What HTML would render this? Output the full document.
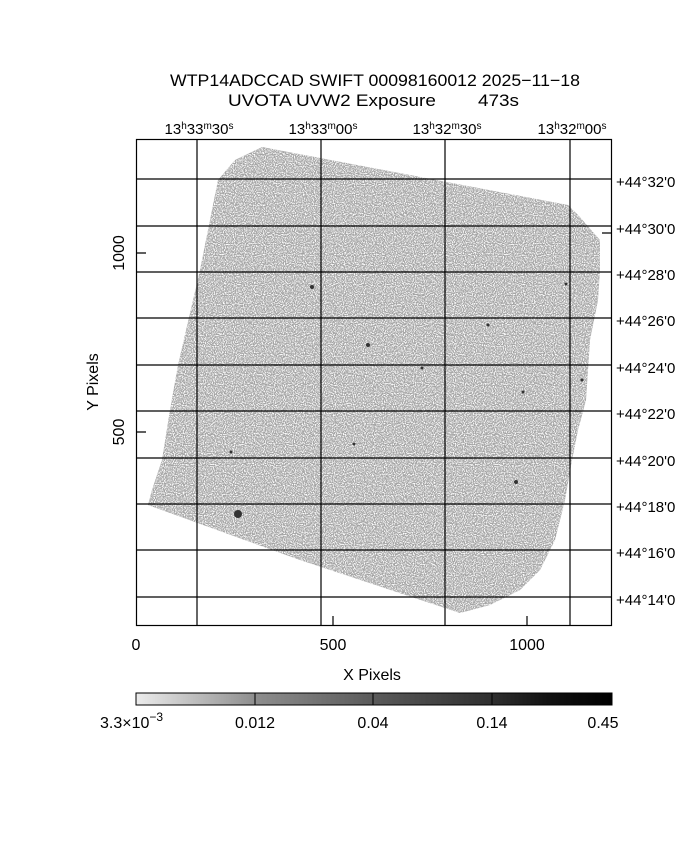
<!DOCTYPE html>
<html><head><style>
body{margin:0;background:#fff;}
svg text{font-family:"Liberation Sans",sans-serif;fill:#000;}
</style></head><body>
<svg width="680" height="850" xmlns="http://www.w3.org/2000/svg">
<defs>
<filter id="n" x="0" y="0" width="100%" height="100%">
<feTurbulence type="fractalNoise" baseFrequency="0.9" numOctaves="1" seed="3" result="t"/>
<feColorMatrix in="t" type="matrix" values="0 0 0 0 1  0 0 0 0 1  0 0 0 0 1  0 0 0 -4 2.3" result="c"/>
<feComposite in="c" in2="SourceGraphic" operator="in"/>
</filter>
<linearGradient id="cb" x1="0" x2="1">
<stop offset="0" stop-color="#ececec"/><stop offset="0.25" stop-color="#8e8e8e"/>
<stop offset="0.5" stop-color="#5a5a5a"/><stop offset="0.75" stop-color="#2e2e2e"/>
<stop offset="0.87" stop-color="#111"/><stop offset="1" stop-color="#000"/>
</linearGradient>
</defs>
<text x="375" y="86" font-size="17" text-anchor="middle" textLength="410" lengthAdjust="spacingAndGlyphs">WTP14ADCCAD SWIFT 00098160012 2025−11−18</text>
<text x="228" y="106" font-size="17" textLength="291" lengthAdjust="spacingAndGlyphs" xml:space="preserve">UVOTA UVW2 Exposure        473s</text>
<polygon points="262,147 568,205 578,215 600,240 600,270 598,300 590,340 586,400 578,430 572,460 565,500 555,540 540,570 520,590 490,605 460,613 300,560 148,505 152,490 162,460 170,410 178,365 200,270 218,180 235,160" fill="#a4a4a4"/>
<polygon points="262,147 568,205 578,215 600,240 600,270 598,300 590,340 586,400 578,430 572,460 565,500 555,540 540,570 520,590 490,605 460,613 300,560 148,505 152,490 162,460 170,410 178,365 200,270 218,180 235,160" fill="#fff" filter="url(#n)"/>
<g fill="#333">
<circle cx="238" cy="514" r="4"/><circle cx="312" cy="287" r="2"/><circle cx="516" cy="482" r="2"/>
<circle cx="368" cy="345" r="2"/><circle cx="354" cy="444" r="1.5"/><circle cx="422" cy="368" r="1.5"/>
<circle cx="523" cy="392" r="1.5"/><circle cx="231" cy="452" r="1.5"/><circle cx="582" cy="380" r="1.5"/>
<circle cx="566" cy="284" r="1.5"/><circle cx="488" cy="325" r="1.5"/>
</g>
<g stroke="#000" stroke-width="1.2" fill="none">
<rect x="136.5" y="139.5" width="475" height="486"/>
<path d="M197 139V625M321 139V625M445 139V625M570 139V625"/>
<path d="M136 179H612M136 226H612M136 272H612M136 318H612M136 365H612M136 411H612M136 458H612M136 504H612M136 550H612M136 597H612"/>
<path d="M136 253H146M136 432H146M333 625V616M527 625V616M612 233H602"/>
</g>
<g font-size="15">
<text x="199" y="134" text-anchor="middle">13<tspan font-size="10" dy="-5">h</tspan><tspan dy="5">33</tspan><tspan font-size="10" dy="-5">m</tspan><tspan dy="5">30</tspan><tspan font-size="10" dy="-5">s</tspan></text>
<text x="323" y="134" text-anchor="middle">13<tspan font-size="10" dy="-5">h</tspan><tspan dy="5">33</tspan><tspan font-size="10" dy="-5">m</tspan><tspan dy="5">00</tspan><tspan font-size="10" dy="-5">s</tspan></text>
<text x="447" y="134" text-anchor="middle">13<tspan font-size="10" dy="-5">h</tspan><tspan dy="5">32</tspan><tspan font-size="10" dy="-5">m</tspan><tspan dy="5">30</tspan><tspan font-size="10" dy="-5">s</tspan></text>
<text x="572" y="134" text-anchor="middle">13<tspan font-size="10" dy="-5">h</tspan><tspan dy="5">32</tspan><tspan font-size="10" dy="-5">m</tspan><tspan dy="5">00</tspan><tspan font-size="10" dy="-5">s</tspan></text>
</g>
<g font-size="15">
<text x="616" y="187">+44°32'0</text><text x="616" y="234">+44°30'0</text>
<text x="616" y="280">+44°28'0</text><text x="616" y="326">+44°26'0</text>
<text x="616" y="373">+44°24'0</text><text x="616" y="419">+44°22'0</text>
<text x="616" y="466">+44°20'0</text><text x="616" y="512">+44°18'0</text>
<text x="616" y="558">+44°16'0</text><text x="616" y="605">+44°14'0</text>
</g>
<g font-size="16">
<text x="136" y="650" text-anchor="middle">0</text>
<text x="333" y="650" text-anchor="middle">500</text>
<text x="527" y="650" text-anchor="middle">1000</text>
<text x="372" y="680" text-anchor="middle">X Pixels</text>
<text transform="translate(124,253) rotate(-90)" text-anchor="middle">1000</text>
<text transform="translate(124,432) rotate(-90)" text-anchor="middle">500</text>
<text transform="translate(98,382) rotate(-90)" text-anchor="middle">Y Pixels</text>
</g>
<rect x="136" y="693" width="476" height="12" fill="url(#cb)" stroke="#000"/>
<path d="M255 693V705M373 693V705M492 693V705" stroke="#000"/>
<g font-size="16">
<text x="100" y="728">3.3×10<tspan font-size="12" dy="-7">−3</tspan></text>
<text x="255" y="728" text-anchor="middle">0.012</text>
<text x="373" y="728" text-anchor="middle">0.04</text>
<text x="492" y="728" text-anchor="middle">0.14</text>
<text x="603" y="728" text-anchor="middle">0.45</text>
</g>
</svg>
</body></html>
